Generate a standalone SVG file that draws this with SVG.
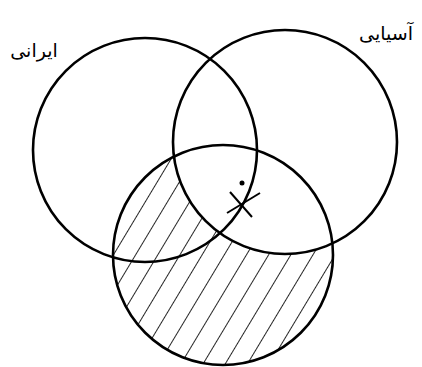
<svg xmlns="http://www.w3.org/2000/svg" width="422" height="367" viewBox="0 0 422 367">
<style>
.c{fill:none;stroke:#000;stroke-width:2.6}
.t{font-family:"DejaVu Sans",sans-serif;font-size:19px;fill:#000}
.h{stroke:#000;stroke-width:1.7}
</style>
<defs>
<pattern id="hatch" patternUnits="userSpaceOnUse" width="19" height="19" patternTransform="rotate(31)">
<line class="h" x1="0" y1="0" x2="0" y2="19"/>
</pattern>
<mask id="m">
<circle cx="223" cy="255" r="110" fill="#fff"/>
<circle cx="285" cy="142" r="112" fill="#000"/>
</mask>
</defs>
<rect x="100" y="140" width="250" height="230" fill="url(#hatch)" mask="url(#m)"/>
<g id="iranian">
<circle class="c" cx="145" cy="150" r="112"/>
<text class="t" x="34" y="57" text-anchor="middle">ایرانی</text>
</g>
<g id="asian">
<circle class="c" cx="285" cy="142" r="112"/>
<text class="t" x="386" y="40" text-anchor="middle">آسیایی</text>
</g>
<g id="third">
<circle class="c" cx="223" cy="255" r="110"/>
</g>
<g id="mark">
<line x1="230" y1="192" x2="252" y2="217" stroke="#000" stroke-width="2"/>
<line x1="260" y1="193" x2="227" y2="213" stroke="#000" stroke-width="2"/>
<circle cx="242" cy="183" r="2.5" fill="#000"/>
</g>
</svg>
